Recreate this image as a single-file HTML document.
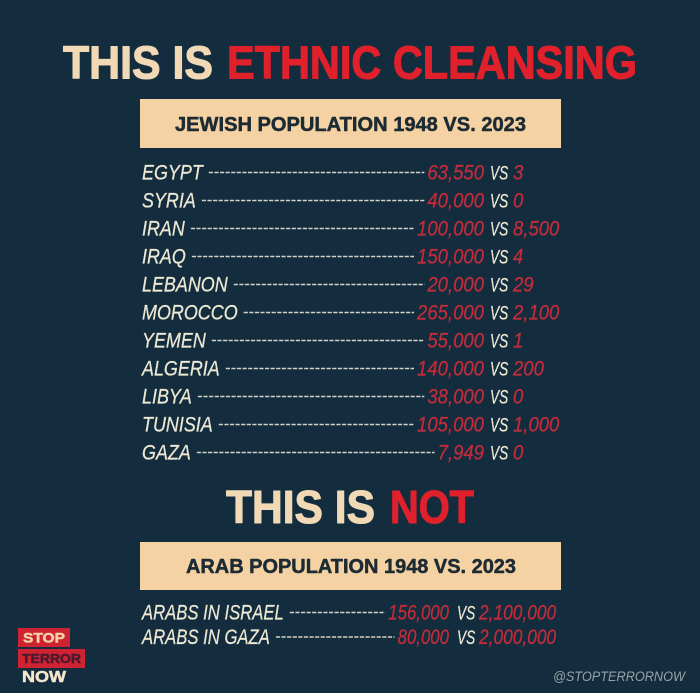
<!DOCTYPE html>
<html lang="en">
<head>
<meta charset="utf-8">
<title>This is ethnic cleansing</title>
<style>
html,body{margin:0;padding:0;background:#142d3e;}
svg{display:block;width:700px;height:693px;font-family:"Liberation Sans",sans-serif;}
.heavy{stroke-width:1.1px;paint-order:stroke;stroke-linejoin:round;}
.mid{stroke-width:.5px;stroke-linejoin:round;}
</style>
</head>
<body>
<svg id="poster" xmlns="http://www.w3.org/2000/svg" width="700" height="693" viewBox="0 0 700 693">
  <rect x="0" y="0" width="700" height="693" fill="#142d3e"/>
  <text class="heavy" stroke="#f2d9b6" x="63" y="78.5" font-size="46" font-weight="700" fill="#f2d9b6" textLength="150" lengthAdjust="spacingAndGlyphs">THIS IS</text>
  <text class="heavy" stroke="#e0212b" x="227" y="78.5" font-size="46" font-weight="700" fill="#e0212b" textLength="410" lengthAdjust="spacingAndGlyphs">ETHNIC CLEANSING</text>
  <rect x="140" y="99" width="421" height="49" fill="#f5d2a4"/>
  <text class="mid" stroke="#1d2b33" x="175" y="131" font-size="20" font-weight="700" fill="#1d2b33" textLength="351" lengthAdjust="spacingAndGlyphs">JEWISH POPULATION 1948 VS. 2023</text>
  <text class="heavy" stroke="#f2d9b6" x="226" y="523" font-size="46" font-weight="700" fill="#f2d9b6" textLength="149" lengthAdjust="spacingAndGlyphs">THIS IS</text>
  <text class="heavy" stroke="#e0212b" x="390" y="523" font-size="46" font-weight="700" fill="#e0212b" textLength="84" lengthAdjust="spacingAndGlyphs">NOT</text>
  <rect x="140" y="542" width="421" height="48" fill="#f5d2a4"/>
  <text class="mid" stroke="#1d2b33" x="186" y="573" font-size="20" font-weight="700" fill="#1d2b33" textLength="330" lengthAdjust="spacingAndGlyphs">ARAB POPULATION 1948 VS. 2023</text>
  <g id="jewish-rows"></g>
  <g id="arab-rows"></g>
  <g>
    <rect x="18" y="628" width="52" height="19" fill="#cf2233"/>
    <text class="mid" stroke="#f5d2a4" x="23" y="642.5" font-size="14" font-weight="700" fill="#f5d2a4" textLength="42" lengthAdjust="spacingAndGlyphs">STOP</text>
    <rect x="18" y="649" width="67" height="19" fill="#cf2233"/>
    <text class="mid" stroke="#4a1a2c" x="22" y="663" font-size="13" font-weight="700" fill="#4a1a2c" textLength="59" lengthAdjust="spacingAndGlyphs">TERROR</text>
    <text class="mid" stroke="#f3e6cc" x="22" y="682" font-size="16" font-weight="700" fill="#f3e6cc" textLength="44" lengthAdjust="spacingAndGlyphs">NOW</text>
  </g>
  <text x="553" y="681" font-size="14" font-style="italic" fill="#95a3a8" textLength="132" lengthAdjust="spacingAndGlyphs">@STOPTERRORNOW</text>
</svg>
<script>
var jewishCountries = ["EGYPT","SYRIA","IRAN","IRAQ","LEBANON","MOROCCO","YEMEN","ALGERIA","LIBYA","TUNISIA","GAZA"];
var jewish1948 = [63550,40000,100000,150000,20000,265000,55000,140000,38000,105000,7949];
var jewish2023 = [3,0,8500,4,29,2100,1,200,0,1000,0];
var arabGroups = ["ARABS IN ISRAEL","ARABS IN GAZA"];
var arab1948 = [156000,80000];
var arab2023 = [2100000,2000000];

var NS = "http://www.w3.org/2000/svg";
var CREAM = "#ece8d4";
var RED = "#c42c3b";

function fmt(n){ return String(n).replace(/\B(?=(\d{3})+$)/g, ","); }

function addText(parent, str, x, y, size, fill, squeeze, anchorEnd){
  var t = document.createElementNS(NS, "text");
  t.textContent = str;
  t.setAttribute("y", y);
  t.setAttribute("font-size", size);
  t.setAttribute("font-style", "italic");
  t.setAttribute("fill", fill);
  t.setAttribute("stroke", fill);
  t.setAttribute("stroke-width", "0.25");
  t.setAttribute("x", 0);
  parent.appendChild(t);
  var w = t.getComputedTextLength() * squeeze;
  t.setAttribute("textLength", w);
  t.setAttribute("lengthAdjust", "spacingAndGlyphs");
  t.setAttribute("x", anchorEnd ? x - w : x);
  t.widthPx = w;
  return t;
}

function drawRows(groupId, names, before, after, rowY, spec){
  var g = document.getElementById(groupId);
  names.forEach(function(name, i){
    var y = rowY(i);
    var label = addText(g, name, 142, y, spec.size, CREAM, spec.nameSqueeze, false);
    
    
    var v1 = addText(g, fmt(before[i]), spec.valueEnd, y, spec.size, RED, spec.beforeSqueeze, true);
    
    
    var vs = addText(g, "VS", spec.vsX, y, spec.size - 2, CREAM, spec.vsSqueeze, false);
    
    
    var v2 = addText(g, fmt(after[i]), spec.afterX, y, spec.size, RED, spec.afterSqueeze, false);
    
    
    var line = document.createElementNS(NS, "line");
    line.setAttribute("x1", 142 + label.widthPx + 6);
    line.setAttribute("x2", spec.valueEnd - v1.widthPx - 3);
    line.setAttribute("y1", y - 7);
    line.setAttribute("y2", y - 7);
    line.setAttribute("stroke", "#d3d2c2");
    line.setAttribute("stroke-width", "1.4");
    line.setAttribute("stroke-dasharray", "4.2 1.4");
    
    
    g.appendChild(line);
  });
}

drawRows("jewish-rows", jewishCountries, jewish1948, jewish2023,
  function(i){ return 179.5 + i * 28; },
  {size:21, nameSqueeze:0.854, beforeSqueeze:0.882, afterSqueeze:0.882, vsSqueeze:0.72, valueEnd:484, vsX:490, afterX:513});
drawRows("arab-rows", arabGroups, arab1948, arab2023,
  function(i){ return 619.5 + i * 24.5; },
  {size:21, nameSqueeze:0.794, beforeSqueeze:0.80, afterSqueeze:0.826, vsSqueeze:0.72, valueEnd:449, vsX:457, afterX:479});
</script>
</body>
</html>
